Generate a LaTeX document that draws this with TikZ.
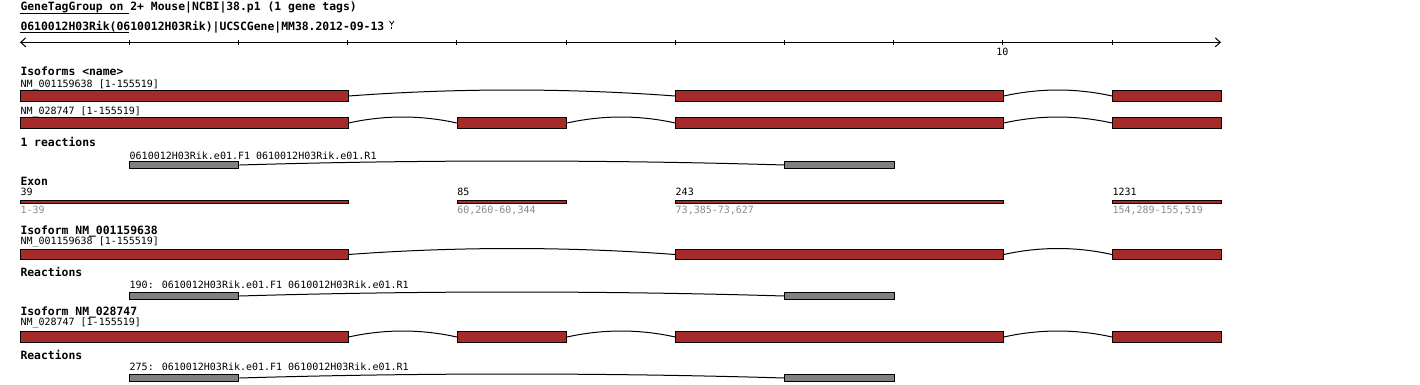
\documentclass[tikz,border=0pt]{standalone}
\usepackage{fontspec}
\setmainfont{DejaVu Sans Mono}
\usetikzlibrary{calc,arrows.meta}
\definecolor{exonred}{HTML}{A52A2A}
\definecolor{primergray}{HTML}{808080}
\definecolor{posgray}{HTML}{8C8C8C}
\tikzset{ exon/.style = { rectangle % exon box
        , draw
        , fill = exonred
        , minimum height = 10.6pt
        , inner sep = 0pt
        , anchor = west
        }
        , exline/.style = { exon % exon track
        , minimum height = 3.4pt
        }
        , primer/.style = { rectangle % primer pair
        , draw
        , fill = primergray
        , minimum height = 6.6pt
        , minimum width = 109.2pt
        , inner sep = 0pt
        , anchor = west
        }
        , lbl/.style = { inner sep = 0pt % plain text
        , anchor = base west
        , font = \fontsize{10}{12}\selectfont
        }
        , hdr/.style = { lbl % bold heading
        , font = \bfseries\fontsize{11.4}{13}\selectfont
        }
        , rng/.style = { lbl % exon range
        , text = posgray
        }
        , tip/.tip = {Straight Barb[length=5pt,width=9pt]}
}
\def\exn#1(#2,#3)#4{% exon box: name (from,to) y
\pgfmathsetmacro{\exa}{20+109.2*#2}
\pgfmathsetmacro{\exw}{109.2*(#3-#2)}
\node[exon, minimum width=\exw pt] (#1) at (\exa,#4) {};
}
\def\intr#1#2#3{% intron: from, to, hump
\draw (#1.east) parabola bend ($(#1.east)!.5!(#2.west)+(0,-#3)$) (#2.west);
}
\def\rxn#1#2{% primer pair: name, y
\node[primer] (#1f) at (129.2,#2) {};
\node[primer] (#1r) at (784.4,#2) {};
\intr{#1f}{#1r}{4}
}
\begin{document}
\begin{tikzpicture}[x=1pt, y=-1pt, line width=1pt]
                    \fill[white] (0,0) rectangle (1420,384);
                    \useasboundingbox (0,0) rectangle (1420,384);
                    % header
                    \node[hdr] (hdrA) at (20,10) {GeneTagGroup on 2+ Mouse|NCBI|38.p1 (1 gene tags)};
                    \node[hdr] (hdrB) at (20,30) {0610012H03Rik(0610012H03Rik)|UCSCGene|MM38.2012-09-13};
                    \draw (hdrA.base west) ++(0,3.3) -- ++(109.2,0);
                    \draw (hdrB.base west) ++(0,2.3) -- ++(109.2,0);
                    \draw[line width=0.8pt] (389.5,21) -- (391.7,24) -- (394,21) (391.7,24) -- (391.7,26);
                    \fill (391.2,27.3) rectangle (392.2,28.5);
                    % axis
                    \coordinate (axL) at (20,42.3);
                    \coordinate (axR) at (1221,42.3);
                    \draw[tip-tip] (axL) -- (axR);
                    \foreach \i in {1,...,10} \draw (20+109.2*\i,40) -- (20+109.2*\i,45);
                    \node[lbl, anchor=base] (ten) at (1002.4,55.7) {10};
                    % isoforms
                    \node[hdr] (isoT) at (20,75) {Isoforms <name>};
                    \node[lbl] (isoAn) at (20,87.3) {NM\_001159638 [1-155519]};
                    \exn a1(0,3){96} \exn a3(6,9){96} \exn a4(10,11){96}
                    \intr{a1}{a3}{6} \intr{a3}{a4}{6}
                    \node[lbl] (isoBn) at (20,114.3) {NM\_028747 [1-155519]};
                    \exn b1(0,3){123} \exn b2(4,5){123} \exn b3(6,9){123} \exn b4(10,11){123}
                    \intr{b1}{b2}{6} \intr{b2}{b3}{6} \intr{b3}{b4}{6}
                    \node[hdr] (rxT) at (20,146) {1 reactions};
                    \node[lbl] (rxAn) at (129.2,159) {0610012H03Rik.e01.F1 0610012H03Rik.e01.R1};
                    \rxn{pa}{165}
                    % exons
                    \node[hdr] (exT) at (20,185) {Exon};
                    \foreach[count=\n] \a/\b/\len/\rg in {0/3/39/1-39, 4/5/85/{60,260-60,344}, 6/9/243/{73,385-73,627}, 10/11/1231/{154,289-155,519}}{
                    \pgfmathsetmacro{\exa}{20+109.2*\a}
                    \pgfmathsetmacro{\exw}{109.2*(\b-\a)}
                    \node[exline, minimum width=\exw pt] (ex\n) at (\exa,201.7) {};
                    \node[lbl] (exlen\n) at ([yshift=4pt]ex\n.north west) {\len};
                    \node[rng] (exrng\n) at ([yshift=-10pt]ex\n.south west) {\rg};
                    }
                    % isoform NM_001159638
                    \node[hdr] (isoC) at (20,234) {Isoform NM\_001159638};
                    \node[lbl] (isoCn) at (20,244) {NM\_001159638 [1-155519]};
                    \exn c1(0,3){254.5} \exn c3(6,9){254.5} \exn c4(10,11){254.5}
                    \intr{c1}{c3}{6} \intr{c3}{c4}{6}
                    \node[hdr] (rxC) at (20,276.7) {Reactions};
                    \node[lbl] (rxCn) at (129.2,288.3) {190: 0610012H03Rik.e01.F1 0610012H03Rik.e01.R1};
                    \rxn{pc}{296}
                    % isoform NM_028747
                    \node[hdr] (isoD) at (20,315.7) {Isoform NM\_028747};
                    \node[lbl] (isoDn) at (20,325.7) {NM\_028747 [1-155519]};
                    \exn d1(0,3){337} \exn d2(4,5){337} \exn d3(6,9){337} \exn d4(10,11){337}
                    \intr{d1}{d2}{6} \intr{d2}{d3}{6} \intr{d3}{d4}{6}
                    \node[hdr] (rxD) at (20,359) {Reactions};
                    \node[lbl] (rxDn) at (129.2,370) {275: 0610012H03Rik.e01.F1 0610012H03Rik.e01.R1};
                    \rxn{pd}{378}
                \end{tikzpicture}
\end{document}
